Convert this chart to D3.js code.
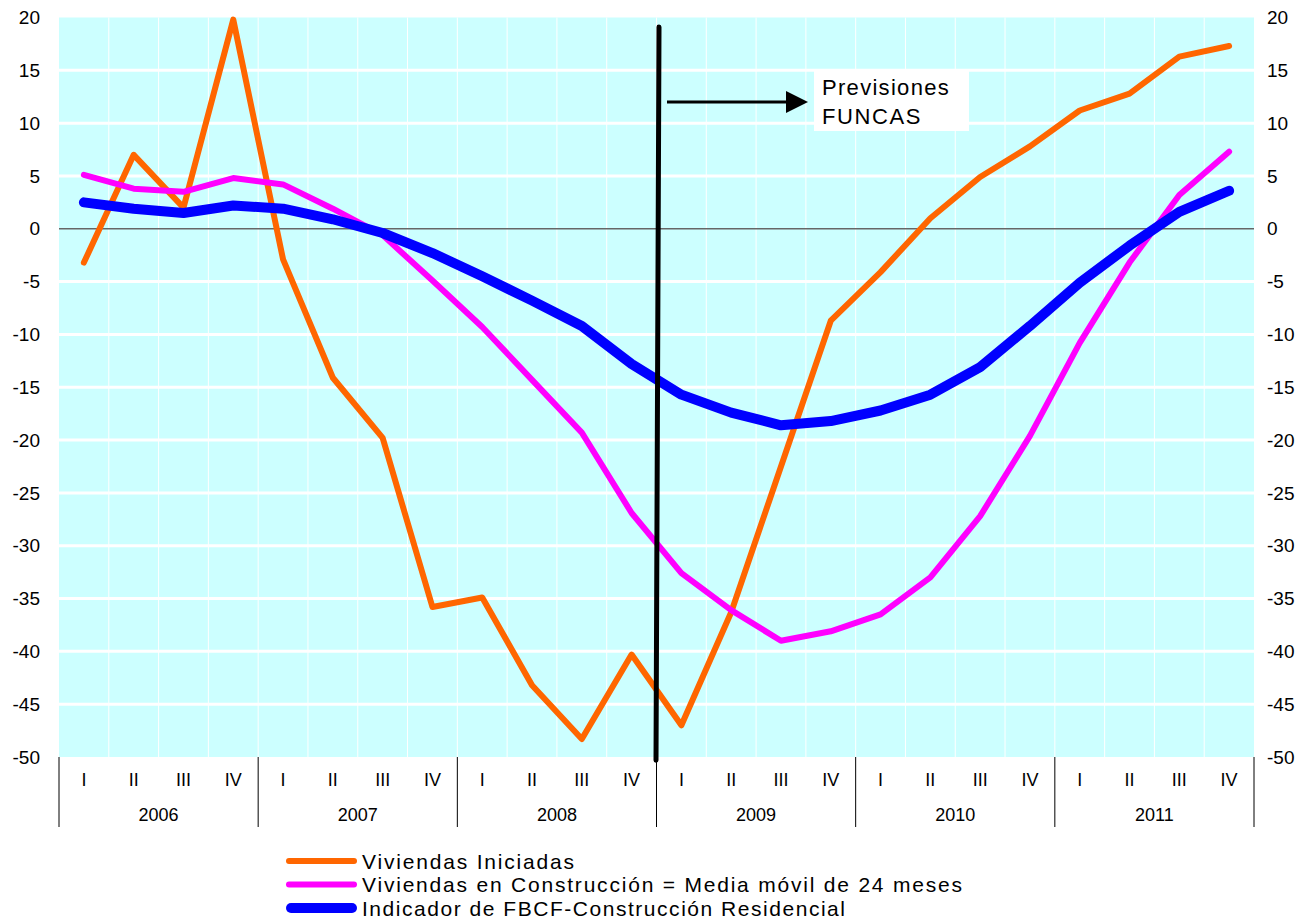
<!DOCTYPE html>
<meta charset="utf-8">
<script src="https://d3js.org/d3.v7.min.js"></script>
<style>
  body { margin: 0; background: #fff; }
  text { font-family: "Liberation Sans", Arial, sans-serif; fill: #000; }
</style>
<div id="my_dataviz"></div>
<script>

// quarters and years
var quarters = ["I", "II", "III", "IV"];
var years = ["2006", "2007", "2008", "2009", "2010", "2011"];

// series values, one per quarter (2006 I ... 2011 IV)
var iniciadas = [-3.2, 7.0, 2.0, 19.8, -2.9, -14.1, -19.8, -35.8, -34.9, -43.2, -48.3, -40.3,
                 -47.0, -36.3, -22.5, -8.7, -4.1, 1.0, 4.9, 7.8, 11.2, 12.8, 16.3, 17.3];
var enConstruccion = [5.1, 3.8, 3.5, 4.8, 4.2, 1.9, -0.6, -4.9, -9.3, -14.3, -19.3, -26.9,
                      -32.6, -36.1, -39.0, -38.1, -36.5, -33.0, -27.2, -19.6, -10.8, -3.2, 3.2, 7.3];
var fbcf = [2.5, 1.9, 1.5, 2.2, 1.9, 0.9, -0.4, -2.3, -4.5, -6.8, -9.2, -12.8,
            -15.7, -17.4, -18.6, -18.2, -17.2, -15.7, -13.1, -9.2, -5.1, -1.6, 1.6, 3.6];

var yTicks = [20, 15, 10, 5, 0, -5, -10, -15, -20, -25, -30, -35, -40, -45, -50];

var seriesNames = ["Viviendas Iniciadas",
                   "Viviendas en Construcción = Media móvil de 24 meses",
                   "Indicador de FBCF-Construcción Residencial"];

var W = 1305, H = 924;
var svg = d3.select("#my_dataviz").append("svg")
  .attr("width", W).attr("height", H);

var x = d3.scaleLinear().domain([0, 24]).range([59, 1254]);
var y = d3.scaleLinear().domain([-50, 20]).range([757, 17.5]);

// background
svg.append("rect")
  .attr("x", x(0)).attr("y", y(20))
  .attr("width", x(24) - x(0)).attr("height", y(-50) - y(20))
  .attr("fill", "#CCFFFF");

// vertical grid
svg.append("g").selectAll("line")
  .data(d3.range(1, 24))
  .join("line")
    .attr("x1", function(d) { return x(d); })
    .attr("x2", function(d) { return x(d); })
    .attr("y1", y(20)).attr("y2", y(-50))
    .attr("stroke", "#fff").attr("stroke-width", 1);

// horizontal grid
svg.append("g").selectAll("line")
  .data(yTicks.filter(function(d) { return d != 0 && d != 20 && d != -50; }))
  .join("line")
    .attr("x1", x(0)).attr("x2", x(24))
    .attr("y1", function(d) { return y(d); })
    .attr("y2", function(d) { return y(d); })
    .attr("stroke", "#fff").attr("stroke-width", 3);

// zero line
svg.append("line")
  .attr("x1", x(0)).attr("x2", x(24))
  .attr("y1", y(0)).attr("y2", y(0))
  .attr("stroke", "#666").attr("stroke-width", 1.5);

// y labels left and right
svg.append("g").selectAll("text")
  .data(yTicks)
  .join("text")
    .attr("x", 40)
    .attr("y", function(d) { return y(d); })
    .attr("dy", "0.35em")
    .attr("text-anchor", "end")
    .attr("font-size", 19)
    .text(function(d) { return d; });
svg.append("g").selectAll("text")
  .data(yTicks)
  .join("text")
    .attr("x", 1267)
    .attr("y", function(d) { return y(d); })
    .attr("dy", "0.35em")
    .attr("text-anchor", "start")
    .attr("font-size", 19)
    .text(function(d) { return d; });

// category axis: year separators, quarter and year labels
svg.append("g").selectAll("line")
  .data(d3.range(0, 25, 4))
  .join("line")
    .attr("x1", function(d) { return x(d); })
    .attr("x2", function(d) { return x(d); })
    .attr("y1", y(-50)).attr("y2", 827)
    .attr("stroke", "#000").attr("stroke-width", 1);

var qLabels = [];
years.forEach(function(yr, yi) {
  quarters.forEach(function(q, qi) { qLabels.push({ i: yi * 4 + qi, q: q }); });
});
svg.append("g").selectAll("text")
  .data(qLabels)
  .join("text")
    .attr("x", function(d) { return x(d.i + 0.5); })
    .attr("y", 780)
    .attr("dy", "0.35em")
    .attr("text-anchor", "middle")
    .attr("font-size", 18)
    .text(function(d) { return d.q; });
svg.append("g").selectAll("text")
  .data(years)
  .join("text")
    .attr("x", function(d, i) { return x(i * 4 + 2); })
    .attr("y", 815)
    .attr("dy", "0.35em")
    .attr("text-anchor", "middle")
    .attr("font-size", 18)
    .text(function(d) { return d; });

// lines
var line = d3.line()
  .x(function(d, i) { return x(i + 0.5); })
  .y(function(d) { return y(d); });

var series = [
  { values: iniciadas, color: "#FF6600", width: 6 },
  { values: enConstruccion, color: "#FF00FF", width: 6 },
  { values: fbcf, color: "#0000FF", width: 10 }
];
series.forEach(function(s) {
  svg.append("path")
    .attr("d", line(s.values))
    .attr("fill", "none")
    .attr("stroke", s.color)
    .attr("stroke-width", s.width)
    .attr("stroke-linejoin", "round")
    .attr("stroke-linecap", "round");
});

// forecast divider
svg.append("line")
  .attr("x1", x(12) + 2.5).attr("y1", y(19.1))
  .attr("x2", x(12) - 0.5).attr("y2", y(-50.3))
  .attr("stroke", "#000").attr("stroke-width", 5)
  .attr("stroke-linecap", "round");

// arrow
svg.append("line")
  .attr("x1", 667).attr("x2", 786)
  .attr("y1", y(12)).attr("y2", y(12))
  .attr("stroke", "#000").attr("stroke-width", 3);
svg.append("path")
  .attr("d", "M786," + (y(12) - 11) + " L808," + y(12) + " L786," + (y(12) + 11) + " Z")
  .attr("fill", "#000");

// label box
svg.append("rect")
  .attr("x", 814).attr("y", 71).attr("width", 155).attr("height", 60)
  .attr("fill", "#fff");
svg.append("text")
  .attr("x", 822).attr("y", 95)
  .attr("font-size", 22)
  .attr("letter-spacing", 1.3)
  .text("Previsiones");
svg.append("text")
  .attr("x", 822).attr("y", 124)
  .attr("font-size", 22)
  .attr("letter-spacing", 1.6)
  .text("FUNCAS");

// legend
var legendWidths = [212, 600, 483];
var legend = svg.append("g").selectAll("g")
  .data(series)
  .join("g")
    .attr("transform", function(d, i) { return "translate(0," + (861 + i * 23.5) + ")"; });
legend.append("line")
  .attr("x1", function(d) { return 286 + d.width / 2; })
  .attr("x2", function(d) { return 357 - d.width / 2; })
  .attr("y1", 0).attr("y2", 0)
  .attr("stroke", function(d) { return d.color; })
  .attr("stroke-width", function(d) { return d.width; })
  .attr("stroke-linecap", "round");
legend.append("text")
  .attr("x", 362).attr("y", 0)
  .attr("dy", "0.36em")
  .attr("font-size", 21)
  .attr("textLength", function(d, i) { return legendWidths[i]; })
  .attr("lengthAdjust", "spacing")
  .text(function(d, i) { return seriesNames[i]; });

</script>
